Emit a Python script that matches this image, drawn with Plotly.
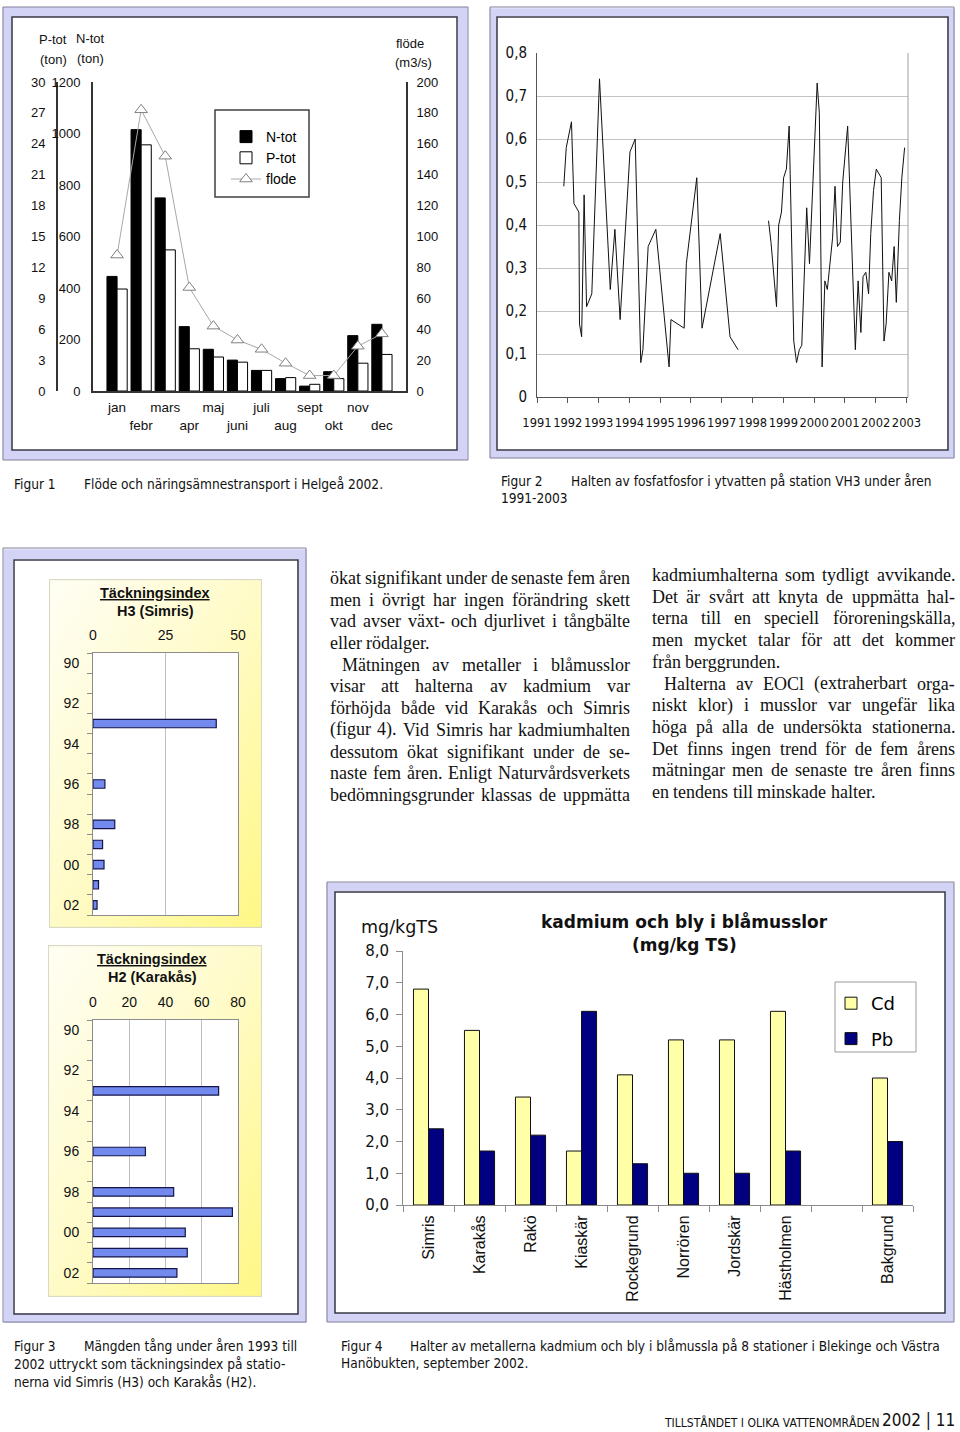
import base64
import plotly.graph_objects as go

W, H = 960, 1432


def px(x):
    return x / W


def py(y):
    return 1 - y / H


SANS = "Liberation Sans, Arial, Helvetica, sans-serif"
NARROW = "Liberation Sans Narrow, Arial Narrow, DejaVu Sans Condensed, sans-serif"
SERIF = "Liberation Serif, Times New Roman, serif"
WIDE = "DejaVu Sans, Verdana, sans-serif"

# ---------------- Figur 1: flöde och näringsämnestransport ----------------
months = ["jan", "febr", "mars", "apr", "maj", "juni", "juli", "aug", "sept", "okt", "nov", "dec"]
n_tot = [445, 1015, 750, 250, 162, 120, 80, 48, 19, 75, 215, 259]          # ton
p_tot = [9.9, 23.9, 13.7, 4.1, 3.3, 2.8, 2.0, 1.3, 0.65, 1.2, 2.7, 3.55]   # ton
flode = [88, 182, 152, 67, 42, 33, 27, 18, 10, 10, 29, 37]                 # m3/s

# ---------------- Figur 2: fosfatfosfor VH3 ----------------
fosfat_year = [1991.87, 1991.95, 1992.12, 1992.20, 1992.36, 1992.38, 1992.45, 1992.53, 1992.61, 1992.78,
               1993.03, 1993.38, 1993.53, 1993.70, 1994.02, 1994.19, 1994.37, 1994.44, 1994.61, 1994.86,
               1995.29, 1995.35, 1995.78, 1995.85, 1996.19, 1996.36, 1996.95, 1997.27, 1997.53,
               1998.00,
               1998.52, 1998.60, 1998.78, 1998.85, 1998.94, 1999.01, 1999.10, 1999.19, 1999.34, 1999.43,
               1999.52, 1999.60, 1999.76, 1999.85, 2000.10, 2000.17, 2000.26, 2000.35, 2000.43, 2000.51,
               2000.60, 2000.68, 2000.76, 2000.85, 2000.93, 2001.09, 2001.34, 2001.43, 2001.52, 2001.59,
               2001.68, 2001.77, 2001.84, 2001.93, 2002.02, 2002.18, 2002.27, 2002.34, 2002.43, 2002.52,
               2002.60, 2002.67, 2002.77, 2002.85, 2002.94]
fosfat_value = [0.49, 0.58, 0.64, 0.45, 0.43, 0.17, 0.14, 0.47, 0.21, 0.24,
                0.74, 0.25, 0.39, 0.18, 0.57, 0.60, 0.08, 0.11, 0.35, 0.39,
                0.07, 0.18, 0.16, 0.31, 0.51, 0.16, 0.38, 0.14, 0.11,
                None,
                0.41, 0.36, 0.21, 0.40, 0.43, 0.51, 0.53, 0.63, 0.13, 0.08,
                0.11, 0.12, 0.44, 0.31, 0.73, 0.66, 0.07, 0.27, 0.25, 0.31,
                0.37, 0.49, 0.35, 0.36, 0.50, 0.63, 0.11, 0.27, 0.15, 0.28,
                0.29, 0.24, 0.38, 0.48, 0.53, 0.51, 0.13, 0.17, 0.29, 0.27,
                0.35, 0.22, 0.41, 0.51, 0.58]
fosfat_ticks = list(range(1991, 2004))

# ---------------- Figur 3: täckningsindex ----------------
tack_years = list(range(1990, 2003))
tack_labels = ["90", "92", "94", "96", "98", "00", "02"]
h3_simris = [None, None, None, 42.5, None, None, 4.1, None, 7.5, 3.3, 3.8, 1.9, 1.4]
h2_karakas = [None, None, None, 69.3, None, None, 28.9, None, 44.5, 76.9, 50.9, 52.0, 46.3]

# ---------------- Figur 4: kadmium och bly ----------------
stations = ["Simris", "Karakås", "Rakö", "Kiaskär", "Rockegrund", "Norrören",
            "Jordskär", "Hästholmen", " ", "Bakgrund"]
cd = [6.8, 5.5, 3.4, 1.7, 4.1, 5.2, 5.2, 6.1, None, 4.0]
pb = [2.4, 1.7, 2.2, 6.1, 1.3, 1.0, 1.0, 1.7, None, 2.0]

# ---------------- body text ----------------
col1 = ["ökat signifikant under de senaste fem åren",
        "men i övrigt har ingen förändring skett",
        "vad avser växt- och djurlivet i tångbälte",
        "eller rödalger.",
        "Mätningen av metaller i blåmusslor",
        "visar att halterna av kadmium var",
        "förhöjda både vid Karakås och Simris",
        "(figur 4). Vid Simris har kadmiumhalten",
        "dessutom ökat signifikant under de se-",
        "naste fem åren. Enligt Naturvårdsverkets",
        "bedömningsgrunder klassas de uppmätta"]
col1_para_start = [4]
col1_para_end = [3]
col2 = ["kadmiumhalterna som tydligt avvikande.",
        "Det är svårt att knyta de uppmätta hal-",
        "terna till en speciell föroreningskälla,",
        "men mycket talar för att det kommer",
        "från berggrunden.",
        "Halterna av EOCl (extraherbart orga-",
        "niskt klor) i musslor var ungefär lika",
        "höga på alla de undersökta stationerna.",
        "Det finns ingen trend för de fem årens",
        "mätningar men de senaste tre åren finns",
        "en tendens till minskade halter."]
col2_para_start = [5]
col2_para_end = [4, 10]

fig = go.Figure()

# ---- Figur 1 traces
month_pos = list(range(1, len(months) + 1))
month_ticktext = [m if i % 2 == 0 else "<br>" + m for i, m in enumerate(months)]
fig.add_trace(go.Bar(x=month_pos, y=n_tot, name="N-tot", xaxis="x", yaxis="y",
                     width=0.42, offset=-0.42,
                     marker=dict(color="#000000", line=dict(color="#000000", width=1)),
                     legend="legend"))
fig.add_trace(go.Bar(x=month_pos, y=p_tot, name="P-tot", xaxis="x", yaxis="y2",
                     width=0.42, offset=0.0,
                     marker=dict(color="#ffffff", line=dict(color="#000000", width=1)),
                     legend="legend"))
fig.add_trace(go.Scatter(x=month_pos, y=flode, name="flode", xaxis="x", yaxis="y3",
                         mode="lines+markers",
                         line=dict(color="#a8a8a8", width=1),
                         marker=dict(symbol="triangle-up", size=11, color="#ffffff",
                                     line=dict(color="#808080", width=1)),
                         legend="legend"))

# ---- Figur 2 trace
fig.add_trace(go.Scatter(x=fosfat_year, y=fosfat_value, xaxis="x2", yaxis="y4",
                         mode="lines", connectgaps=False,
                         line=dict(color="#111111", width=1), showlegend=False))

# ---- Figur 3 traces
bar_blue = dict(color="#728aee", line=dict(color="#15154a", width=1.2))
fig.add_trace(go.Bar(x=h3_simris, y=tack_years, orientation="h", xaxis="x3", yaxis="y5",
                     width=0.42, marker=bar_blue, showlegend=False))
fig.add_trace(go.Bar(x=h2_karakas, y=tack_years, orientation="h", xaxis="x4", yaxis="y6",
                     width=0.42, marker=bar_blue, showlegend=False))

# ---- Figur 4 traces
fig.add_trace(go.Bar(x=stations, y=cd, name="Cd", xaxis="x5", yaxis="y7",
                     width=0.295, offset=-0.295,
                     marker=dict(color="#ffffa8", line=dict(color="#111111", width=1)),
                     legend="legend2", legendgroup="cd"))
fig.add_trace(go.Bar(x=stations, y=pb, name="Pb", xaxis="x5", yaxis="y7",
                     width=0.295, offset=0.0,
                     marker=dict(color="#000080", line=dict(color="#111111", width=1)),
                     legend="legend2", legendgroup="pb"))

# ---------------- shapes: frames ----------------
shapes = []
frames = [
    ((3, 7, 468, 460), (12, 17, 457, 450)),
    ((490, 7, 954, 458), (497, 17, 948, 450)),
    ((3, 548, 306, 1322), (14, 560, 298, 1314)),
    ((327, 882, 954, 1322), (335, 892, 945, 1313)),
]
for (ox0, oy0, ox1, oy1), (ix0, iy0, ix1, iy1) in frames:
    band = ((ix0 - ox0) + (oy1 - iy1) + (ox1 - ix1) + (iy0 - oy0)) / 4
    shapes.append(dict(type="rect", xref="paper", yref="paper", layer="below",
                       x0=px((ox0 + ix0) / 2), x1=px((ox1 + ix1) / 2),
                       y0=py((oy0 + iy0) / 2), y1=py((oy1 + iy1) / 2),
                       line=dict(color="#d3d3f6", width=band), fillcolor="rgba(0,0,0,0)"))
    shapes.append(dict(type="rect", xref="paper", yref="paper", layer="below",
                       x0=px(ox0), x1=px(ox1), y0=py(oy0), y1=py(oy1),
                       line=dict(color="#80809a", width=1), fillcolor="rgba(0,0,0,0)"))
    shapes.append(dict(type="rect", xref="paper", yref="paper", layer="below",
                       x0=px(ix0), x1=px(ix1), y0=py(iy0), y1=py(iy1),
                       line=dict(color="#3a3a48", width=1.5), fillcolor="rgba(0,0,0,0)"))

# legend boxes
shapes.append(dict(type="rect", xref="paper", yref="paper", layer="below",
                   x0=px(215), x1=px(309), y0=py(110), y1=py(197),
                   line=dict(color="#404040", width=1.5), fillcolor="rgba(0,0,0,0)"))
shapes.append(dict(type="rect", xref="paper", yref="paper", layer="below",
                   x0=px(835), x1=px(916), y0=py(982), y1=py(1052),
                   line=dict(color="#9a9a9a", width=1), fillcolor="rgba(0,0,0,0)"))
# white plot areas on the yellow panels of Figur 3
for xr, yr in (("x3", "y5"), ("x4", "y6")):
    shapes.append(dict(type="rect", xref=xr + " domain", yref=yr + " domain", layer="below",
                       x0=0, x1=1, y0=0, y1=1, line=dict(width=0), fillcolor="#ffffff"))
# right border of Figur 2 plot area
shapes.append(dict(type="line", xref="x2 domain", yref="y4 domain", x0=1, x1=1, y0=0, y1=1,
                   line=dict(color="#a0a0a0", width=1)))

# ---------------- gradient panels (Figur 3) ----------------
svg = ("<svg xmlns='http://www.w3.org/2000/svg' width='200' height='300' viewBox='0 0 200 300' "
       "preserveAspectRatio='none'><defs><linearGradient id='g' x1='0' y1='0' x2='1' y2='1'>"
       "<stop offset='0' stop-color='#fffef4'/><stop offset='0.5' stop-color='#fffbc8'/>"
       "<stop offset='1' stop-color='#fff784'/></linearGradient></defs>"
       "<rect x='0.5' y='0.5' width='199' height='299' fill='url(#g)' stroke='#d9d9c4' stroke-width='1'/></svg>")
src = "data:image/svg+xml;base64," + base64.b64encode(svg.encode("utf-8")).decode("ascii")
images = []
for (x0, y0, x1, y1) in ((49, 579, 262, 928), (48, 945, 262, 1297)):
    images.append(dict(source=src, xref="paper", yref="paper", x=px(x0), y=py(y0),
                       sizex=(x1 - x0) / W, sizey=(y1 - y0) / H, xanchor="left", yanchor="top",
                       sizing="stretch", layer="below"))

# ---------------- annotations ----------------
ann = []


def txt(text, x, y, size=13, family=SANS, anchor="left", color="#111111"):
    ann.append(dict(text=text, x=px(x), y=py(y), xref="paper", yref="paper",
                    xanchor=anchor, yanchor="middle", showarrow=False,
                    borderpad=0, borderwidth=0,
                    font=dict(size=size, family=family, color=color)))


# Figur 1 axis titles
txt("P-tot", 53, 39, 13, anchor="center")
txt("(ton)", 53, 59, 13, anchor="center")
txt("N-tot", 90, 38, 13, anchor="center")
txt("(ton)", 90, 58, 13, anchor="center")
txt("flöde", 410, 43, 13, anchor="center")
txt("(m3/s)", 413, 63, 13, anchor="center")

# Figur 3 titles
txt("<b><u>Täckningsindex</u></b>", 155, 593, 14.5, anchor="center")
txt("<b>H3 (Simris)</b>", 155, 611, 14.5, anchor="center")
txt("<b><u>Täckningsindex</u></b>", 152, 959, 14.5, anchor="center")
txt("<b>H2 (Karakås)</b>", 152, 977, 14.5, anchor="center")

# Figur 4 titles
txt("mg/kgTS", 361, 927, 17.5, WIDE)
txt("<b>kadmium och bly i blåmusslor</b>", 684, 922, 17, WIDE, anchor="center")
txt("<b>(mg/kg TS)</b>", 684, 945, 17, WIDE, anchor="center")

# captions
CAP = 13.6
txt("Figur 1", 14, 484, CAP, NARROW)
txt("Flöde och näringsämnestransport i Helgeå 2002.", 84, 484, CAP, NARROW)
txt("Figur 2", 501, 481, CAP, NARROW)
txt("Halten av fosfatfosfor i ytvatten på station VH3 under åren", 571, 481, CAP, NARROW)
txt("1991-2003", 501, 498, CAP, NARROW)
txt("Figur 3", 14, 1346, CAP, NARROW)
txt("Mängden tång under åren 1993 till", 84, 1346, CAP, NARROW)
txt("2002 uttryckt som täckningsindex på statio-", 14, 1364, CAP, NARROW)
txt("nerna vid Simris (H3) och Karakås (H2).", 14, 1382, CAP, NARROW)
txt("Figur 4", 341, 1346, CAP, NARROW)
txt("Halter av metallerna kadmium och bly i blåmussla på 8 stationer i Blekinge och Västra",
    410, 1346, CAP, NARROW)
txt("Hanöbukten, september 2002.", 341, 1363, CAP, NARROW)

# footer
txt("TILLSTÅNDET I OLIKA VATTENOMRÅDEN", 880, 1422, 12, NARROW, anchor="right")
txt("2002 | 11", 955, 1420, 17, NARROW, anchor="right")

# justified body text (Liberation Serif is metric compatible with Times)
TIMES = {
    'a': 444, 'b': 500, 'c': 444, 'd': 500, 'e': 444, 'f': 333, 'g': 500, 'h': 500, 'i': 278,
    'j': 278, 'k': 500, 'l': 278, 'm': 778, 'n': 500, 'o': 500, 'p': 500, 'q': 500, 'r': 333,
    's': 389, 't': 278, 'u': 500, 'v': 500, 'w': 722, 'x': 500, 'y': 500, 'z': 444,
    'å': 444, 'ä': 444, 'ö': 500, 'é': 444,
    'A': 722, 'B': 667, 'C': 667, 'D': 722, 'E': 611, 'F': 556, 'G': 722, 'H': 722, 'I': 333,
    'J': 389, 'K': 722, 'L': 611, 'M': 889, 'N': 722, 'O': 722, 'P': 556, 'Q': 722, 'R': 667,
    'S': 556, 'T': 611, 'U': 722, 'V': 722, 'W': 944, 'X': 722, 'Y': 722, 'Z': 611,
    'Ä': 722, 'Å': 722, 'Ö': 722,
    '.': 250, ',': 250, '-': 333, '(': 333, ')': 333, ':': 278, ';': 278,
}


def word_w(word, size):
    return sum(TIMES.get(c, 500) for c in word) / 1000.0 * size


def body(lines, left, right, y0, dy, starts, ends, size=18, indent=12):
    for i, line in enumerate(lines):
        y = y0 + i * dy
        x_start = left + (indent if i in starts else 0)
        words = line.split()
        widths = [word_w(w, size) for w in words]
        if i in ends or len(words) < 2:
            gap = 0.25 * size
        else:
            gap = (right - x_start - sum(widths)) / (len(words) - 1)
        x = x_start
        for w, ww in zip(words, widths):
            txt(w, x, y, size, SERIF, color="#111111")
            x += ww + gap


body(col1, 330, 630, 578, 21.7, col1_para_start, col1_para_end)
body(col2, 652, 955, 575, 21.7, col2_para_start, col2_para_end)

# ---------------- layout ----------------
axis_dark = "#333333"
gray = "#8c8c8c"
fig.update_layout(
    width=W, height=H, margin=dict(l=0, r=0, t=0, b=0, pad=0), autosize=False,
    paper_bgcolor="#ffffff", plot_bgcolor="#ffffff",
    font=dict(family=SANS, size=13, color="#111111"),
    separators=", ",
    barmode="overlay",
    showlegend=True,
    shapes=shapes, images=images, annotations=ann,
    # Figur 1
    xaxis=dict(domain=[px(93), px(406)], range=[0, 13], anchor="y",
               tickmode="array", tickvals=month_pos, ticktext=month_ticktext, tickangle=0,
               showline=True, linecolor=axis_dark, linewidth=2, ticks="",
               showgrid=False, zeroline=False, tickfont=dict(size=13.5, color="#111"),
               ticklabelstandoff=3),
    yaxis=dict(domain=[py(391), py(82)], range=[0, 1200], dtick=200, anchor="x",
               showline=True, linecolor=axis_dark, linewidth=2, ticks="",
               showgrid=False, zeroline=False, tickfont=dict(size=13), ticklabelstandoff=8),
    yaxis2=dict(overlaying="y", anchor="free", position=px(57), side="left",
                range=[0, 30], dtick=3, showline=True, linecolor=axis_dark, linewidth=2,
                ticks="", showgrid=False, zeroline=False, tickfont=dict(size=13),
                ticklabelstandoff=8),
    yaxis3=dict(overlaying="y", anchor="x", side="right", range=[0, 200], dtick=20,
                showline=True, linecolor=axis_dark, linewidth=2, ticks="",
                showgrid=False, zeroline=False, tickfont=dict(size=13), ticklabelstandoff=6),
    # Figur 2
    xaxis2=dict(domain=[px(537), px(908)], range=[1991, 2003.05], anchor="y4",
                tickmode="array", tickvals=fosfat_ticks, tickangle=0, ticks="outside", ticklen=5,
                tickcolor="#555", showline=True, linecolor="#555", linewidth=1,
                showgrid=False, zeroline=False, tickfont=dict(family=NARROW, size=12.8),
                ticklabelstandoff=9),
    yaxis4=dict(domain=[py(397), py(53)], range=[0, 0.8], dtick=0.1, anchor="x2",
                showline=True, linecolor="#555", linewidth=1, ticks="",
                showgrid=True, gridcolor="#c4c4c4", zeroline=False,
                tickfont=dict(family=NARROW, size=15), ticklabelstandoff=6),
    # Figur 3 (H3)
    xaxis3=dict(domain=[px(93), px(238)], range=[0, 50], dtick=25, side="top", anchor="y5",
                showline=True, mirror=True, linecolor=gray, linewidth=1, ticks="",
                showgrid=True, gridcolor="#bdbdbd", zeroline=False,
                tickfont=dict(size=14), ticklabelstandoff=6),
    yaxis5=dict(domain=[py(915), py(653)], range=[2002.5, 1989.5], anchor="x3",
                tickmode="array", tickvals=tack_years[::2], ticktext=tack_labels,
                showline=True, mirror=True, linecolor=gray, linewidth=1, ticks="",
                minor=dict(ticks="outside", ticklen=5, tickmode="linear", tick0=1989.5, dtick=1,
                           tickcolor=gray, showgrid=False),
                showgrid=False, zeroline=False, tickfont=dict(size=14), ticklabelstandoff=10),
    # Figur 3 (H2)
    xaxis4=dict(domain=[px(93), px(238)], range=[0, 80], dtick=20, side="top", anchor="y6",
                showline=True, mirror=True, linecolor=gray, linewidth=1, ticks="",
                showgrid=True, gridcolor="#bdbdbd", zeroline=False,
                tickfont=dict(size=14), ticklabelstandoff=6),
    yaxis6=dict(domain=[py(1283), py(1020)], range=[2002.5, 1989.5], anchor="x4",
                tickmode="array", tickvals=tack_years[::2], ticktext=tack_labels,
                showline=True, mirror=True, linecolor=gray, linewidth=1, ticks="",
                minor=dict(ticks="outside", ticklen=5, tickmode="linear", tick0=1989.5, dtick=1,
                           tickcolor=gray, showgrid=False),
                showgrid=False, zeroline=False, tickfont=dict(size=14), ticklabelstandoff=10),
    # Figur 4
    xaxis5=dict(domain=[px(403), px(913)], type="category", categoryorder="array",
                categoryarray=stations, range=[-0.5, len(stations) - 0.5], anchor="y7",
                tickangle=-90, tickson="boundaries", ticks="outside", ticklen=6, tickcolor=gray,
                showline=True, linecolor=gray, linewidth=1, showgrid=False, zeroline=False,
                tickfont=dict(family=SANS, size=16, color="#111"), ticklabelstandoff=3),
    yaxis7=dict(domain=[py(1205), py(951)], range=[0, 8], dtick=1, tickformat=".1f", anchor="x5",
                showline=True, linecolor=gray, linewidth=1, ticks="outside", ticklen=6,
                tickcolor=gray, showgrid=False, zeroline=False,
                tickfont=dict(family=WIDE, size=15, color="#111"), ticklabelstandoff=4),
    legend=dict(x=px(226), y=py(121), xanchor="left", yanchor="top",
                bgcolor="rgba(0,0,0,0)", borderwidth=0,
                font=dict(family=SANS, size=14, color="#000")),
    legend2=dict(x=px(831), y=py(985), xanchor="left", yanchor="top",
                 bgcolor="rgba(0,0,0,0)", borderwidth=0, traceorder="grouped", tracegroupgap=9,
                 font=dict(family=WIDE, size=18, color="#000")),
)
fig.update_xaxes(automargin=False)
fig.update_yaxes(automargin=False)

fig.write_html("out.html",
               config={"displayModeBar": False},
               post_script="document.body.style.margin='0';document.body.style.padding='0';")
